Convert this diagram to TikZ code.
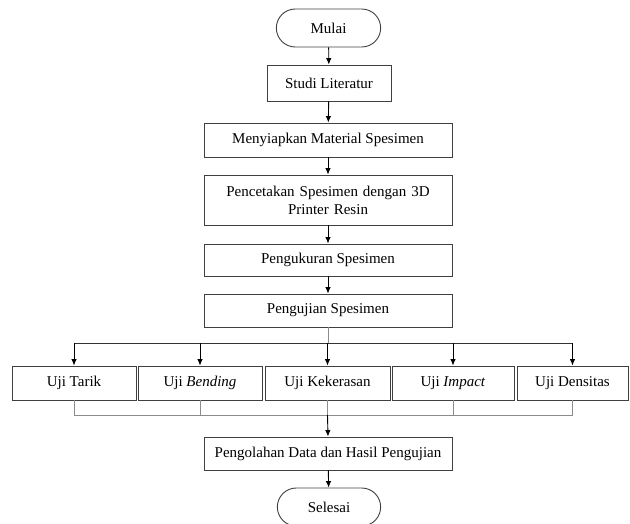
\documentclass[tikz,border=0pt]{standalone}
\usepackage{fontspec}
\setmainfont{Liberation Serif}
\usetikzlibrary{arrows.meta,shapes.misc,calc}
\begin{document}
\begin{tikzpicture}[x=1pt,y=-1pt,
  font=\fontsize{15}{18}\selectfont,
  box/.style={draw=black!75,line width=0.9pt,rectangle,minimum height=#1,inner sep=2pt,align=center},
  box/.default=33pt,
  term/.style={draw=black!75,line width=0.9pt,rounded rectangle,minimum width=111pt,minimum height=38pt},
  arr/.style={draw=black,line width=0.9pt,-{Latex[length=6.5pt,width=5.5pt]}},
  gline/.style={draw=black!45,line width=0.9pt}]
\useasboundingbox (0,0) rectangle (630,524);
\node[term] (mulai) at (328.5,28) {Mulai};
\node[box=36pt,minimum width=124pt] (studi) at (329,83) {Studi Literatur};
\node[box=34pt,minimum width=248pt] (siap) at (328,140) {Menyiapkan Material Spesimen};
\node[box=50pt,minimum width=248pt,text width=240pt] (cetak) at (328,200) {Pencetakan Spesimen dengan 3D\\Printer Resin};
\node[box=32pt,minimum width=248pt] (ukur) at (328,260) {Pengukuran Spesimen};
\node[box=33pt,minimum width=248pt] (uji) at (328,310.5) {Pengujian Spesimen};
\node[box=34pt,minimum width=124pt] (tarik) at (74,383) {Uji Tarik};
\node[box=34pt,minimum width=124pt] (bend) at (200,383) {Uji \textit{Bending}};
\node[box=34pt,minimum width=125pt] (keras) at (327.5,383) {Uji Kekerasan};
\node[box=34pt,minimum width=122pt] (imp) at (453,383) {Uji \textit{Impact}};
\node[box=34pt,minimum width=111pt] (dens) at (572.5,383) {Uji Densitas};
\node[box=33pt,minimum width=248pt] (olah) at (328,453.5) {Pengolahan Data dan Hasil Pengujian};
\node[term,minimum width=110pt] (selesai) at (329,507) {Selesai};
\coordinate (top) at (328,343);
\coordinate (bot) at (328,415);
\draw[arr] (mulai) -- (studi);
\draw[arr] (studi) -- (siap);
\draw[arr] (siap) -- (cetak);
\draw[arr] (cetak) -- (ukur);
\draw[arr] (ukur) -- (uji);
\draw[gline] (uji.south) -- (top);
\draw[draw=black!80,line width=0.9pt] (top -| tarik) -- (top -| dens);
\foreach \n in {tarik,bend,keras,imp,dens}{
  \draw[arr] (top -| \n) -- (\n.north);
  \draw[gline] (\n.south) -- (bot -| \n);
}
\draw[gline] (bot -| tarik) -- (bot -| dens);
\draw[arr] (bot -| keras) -- (olah.north);
\draw[arr] (olah) -- (selesai);
\end{tikzpicture}
\end{document}
